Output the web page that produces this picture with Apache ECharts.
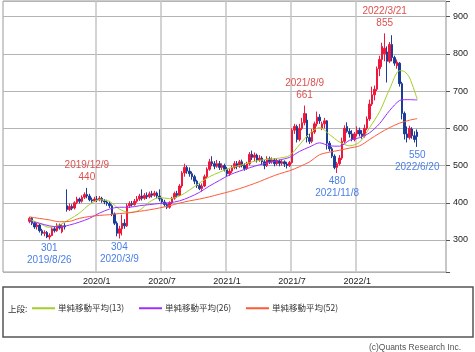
<!DOCTYPE html>
<html>
<head>
<meta charset="utf-8">
<script src="https://cdn.jsdelivr.net/npm/echarts@6/dist/echarts.min.js"></script>
<style>
  html, body { margin: 0; padding: 0; background: #fff; }
  #chart { width: 475px; height: 352px; }
</style>
</head>
<body>
<div id="chart"></div>
<script>
// axis runs weekly, starts 10 weeks before the first candle
const firstWeek = [2019, 4, 22];
const weekCount = 177;
const candleStart = '2019/7/1';

// weekly OHLC, 2019/7/1 .. 2022/6/20
const opens = [
  350, 358, 345, 336, 340, 325, 318, 320, 308, 312,
  330, 325, 340, 322, 338, 392, 382, 390, 386, 400,
  410, 404, 415, 422, 418, 408, 405, 410, 408, 412,
  405, 402, 398, 392, 370, 345, 318, 330, 345, 338,
  392, 398, 395, 404, 410, 418, 412, 420, 416, 424,
  420, 426, 418, 410, 402, 395, 388, 400, 412, 425,
  420, 445, 480, 495, 485, 478, 470, 458, 446, 438,
  445, 470, 490, 510, 505, 498, 505, 495, 500, 490,
  478, 485, 495, 505, 498, 510, 500, 492, 505, 530,
  522, 528, 515, 520, 510, 500, 518, 510, 515, 505,
  512, 506, 510, 504, 500, 508, 595, 605, 570, 600,
  615, 622, 575, 565, 590, 612, 630, 600, 612, 620,
  560, 545, 525, 495, 505, 520, 565, 605, 592, 585,
  570, 585, 595, 585, 580, 600, 625, 665, 690, 705,
  760, 785, 800, 805, 780, 825, 790, 768, 775, 720,
  640, 585, 575, 598, 580, 590
];
const closes = [
  358, 345, 335, 340, 325, 318, 320, 308, 312, 330,
  325, 340, 332, 338, 335, 382, 390, 385, 400, 410,
  404, 415, 422, 418, 408, 405, 410, 408, 412, 405,
  402, 398, 392, 370, 345, 318, 330, 345, 338, 392,
  398, 395, 404, 410, 418, 412, 420, 416, 424, 420,
  426, 418, 410, 402, 395, 388, 400, 412, 425, 420,
  445, 480, 495, 485, 478, 470, 458, 446, 438, 445,
  470, 490, 510, 505, 498, 505, 495, 500, 490, 478,
  485, 495, 505, 498, 510, 500, 492, 505, 530, 522,
  528, 515, 520, 510, 500, 518, 510, 515, 505, 512,
  506, 510, 504, 500, 508, 595, 605, 570, 600, 615,
  640, 575, 565, 590, 612, 630, 620, 612, 620, 560,
  545, 525, 495, 505, 520, 565, 600, 592, 585, 570,
  585, 595, 585, 580, 600, 625, 665, 690, 705, 760,
  785, 820, 815, 780, 825, 790, 775, 778, 720, 640,
  585, 575, 600, 580, 570, 578
];
const lows = [
  345, 340, 330, 328, 320, 312, 310, 305, 301, 310,
  320, 322, 328, 318, 328, 376, 378, 380, 382, 396,
  398, 400, 410, 412, 404, 400, 402, 402, 404, 400,
  396, 392, 386, 364, 340, 310, 304, 312, 330, 335,
  386, 390, 392, 400, 405, 406, 408, 410, 412, 414,
  416, 412, 404, 398, 390, 383, 384, 396, 408, 414,
  418, 440, 470, 478, 470, 462, 450, 440, 434, 430,
  442, 466, 486, 498, 490, 494, 488, 488, 484, 470,
  472, 480, 490, 490, 494, 495, 486, 488, 500, 515,
  512, 508, 510, 502, 490, 496, 504, 505, 498, 500,
  498, 500, 496, 492, 496, 505, 585, 562, 565, 595,
  608, 562, 558, 560, 585, 605, 612, 595, 600, 543,
  538, 520, 490, 480, 500, 515, 560, 588, 575, 565,
  565, 578, 578, 572, 575, 595, 620, 660, 675, 700,
  740, 765, 780, 723, 775, 780, 768, 760, 712, 624,
  570, 562, 570, 572, 562, 550
];
const highs = [
  362, 362, 350, 346, 343, 330, 326, 324, 318, 334,
  336, 345, 344, 342, 345, 436, 398, 396, 404, 416,
  414, 420, 428, 440, 424, 414, 416, 418, 418, 416,
  410, 408, 404, 396, 374, 350, 338, 368, 356, 398,
  404, 405, 410, 418, 424, 436, 426, 428, 430, 432,
  432, 430, 436, 414, 408, 400, 404, 416, 430, 432,
  450, 485, 505, 500, 495, 484, 475, 462, 452, 452,
  476, 495, 518, 525, 512, 515, 512, 506, 505, 496,
  492, 500, 512, 512, 515, 516, 506, 510, 536, 540,
  535, 532, 528, 525, 515, 525, 524, 522, 520, 518,
  516, 515, 514, 510, 512, 600, 612, 610, 612, 628,
  661, 640, 585, 598, 618, 645, 638, 618, 628, 622,
  566, 550, 530, 510, 528, 575, 608, 616, 600, 595,
  590, 605, 602, 595, 610, 632, 677, 712, 715, 766,
  795, 830, 855, 820, 832, 850, 795, 785, 778, 725,
  645, 605, 607, 603, 592, 597
];

// moving averages at these week offsets from candleStart
const maWeeks = [0, 4, 8, 12, 16, 20, 24, 28, 32, 36, 40, 44, 48, 52, 56, 60, 64, 68, 72, 76,
  80, 84, 88, 92, 96, 100, 104, 108, 112, 116, 120, 124, 128, 132, 136, 140, 144, 148, 150, 152, 155];
const ma13 = [356, 345, 334, 340, 355, 372, 395, 408, 404, 383, 374, 380, 402, 414, 411, 418, 434, 453, 470, 482,
  493, 500, 508, 514, 517, 520, 527, 556, 586, 602, 583, 563, 553, 563, 602, 645, 706, 755, 752, 735, 678];
const ma26 = [350, 345, 338, 335, 340, 348, 358, 372, 383, 388, 388, 392, 395, 398, 400, 405, 415, 428, 445, 460,
  475, 485, 494, 502, 508, 515, 522, 538, 550, 561, 553, 552, 568, 575, 588, 613, 648, 675, 677, 677, 676];
const ma52 = [362, 358, 354, 349, 350, 358, 363, 366, 368, 371, 373, 377, 381, 386, 392, 399, 405, 410, 416, 423,
  430, 438, 447, 457, 468, 478, 486, 497, 510, 529, 536, 541, 547, 553, 570, 587, 602, 614, 618, 622, 626];

const xTickLabels = ['2020/1', '2020/7', '2021/1', '2021/7', '2022/1'];

const peakDates = ['2019/12/9', '2021/8/9', '2022/3/21'];
const peakValues = [440, 661, 855];
const troughDates = ['2019/8/26', '2020/3/9', '2021/11/8', '2022/6/20'];
const troughValues = [301, 304, 480, 550];

const seriesNames = ['単純移動平均(13)', '単純移動平均(26)', '単純移動平均(52)'];
const maColors = ['#a3cf2a', '#9b30ff', '#ff5a36'];

const categories = [];
for (let i = 0; i < weekCount; i++) {
  const d = new Date(firstWeek[0], firstWeek[1] - 1, firstWeek[2] + i * 7);
  categories.push(d.getFullYear() + '/' + (d.getMonth() + 1) + '/' + d.getDate());
}
const startIdx = categories.indexOf(candleStart);

const candleData = categories.map(function (d, i) {
  const k = i - startIdx;
  if (k < 0 || k >= opens.length) return ['-', '-', '-', '-'];
  return [opens[k], closes[k], lows[k], highs[k]];
});

function maLine(values) {
  return maWeeks.map(function (w, j) {
    return [categories[startIdx + w], values[j]];
  });
}

function isTickWeek(index, value) {
  const p = value.split('/');
  return +p[2] <= 7 && xTickLabels.indexOf(p[0] + '/' + p[1]) >= 0;
}

const marks = [];
peakDates.forEach(function (d, i) {
  marks.push({
    coord: [d, peakValues[i]],
    label: { position: 'top', distance: 4, color: '#dd5050', formatter: d + '\n' + peakValues[i] }
  });
});
troughDates.forEach(function (d, i) {
  marks.push({
    coord: [d, troughValues[i]],
    label: { position: 'bottom', distance: 2, color: '#4a7fe6', formatter: troughValues[i] + '\n' + d }
  });
});

const chart = echarts.init(document.getElementById('chart'));

const legendBase = {
  top: 304,
  padding: 0,
  icon: 'rect',
  itemWidth: 23,
  itemHeight: 2,
  selectedMode: false,
  textStyle: { fontSize: 8.5, color: '#333', fontFamily: 'Noto Sans CJK JP', padding: [0, 0, 0, -2] }
};

const options = {
  animation: false,
  backgroundColor: '#fff',
  grid: {
    left: 3,
    right: 29,
    top: 1,
    bottom: 80,
    show: true,
    borderColor: '#999',
    borderWidth: 1
  },
  legend: [
    Object.assign({ left: 32, data: [seriesNames[0]] }, legendBase),
    Object.assign({ left: 139, data: [seriesNames[1]] }, legendBase),
    Object.assign({ left: 246, data: [seriesNames[2]] }, legendBase)
  ],
  xAxis: {
    type: 'category',
    data: categories,
    axisLine: { show: false },
    axisTick: { show: false },
    axisLabel: {
      interval: isTickWeek,
      margin: 5,
      fontSize: 9,
      color: '#222',
      fontFamily: 'Liberation Sans',
      formatter: function (v) {
        const p = v.split('/');
        return p[0] + '/' + p[1];
      }
    },
    splitLine: {
      show: true,
      interval: isTickWeek,
      lineStyle: { color: '#c4c4c4', width: 1.5 }
    }
  },
  yAxis: {
    type: 'value',
    position: 'right',
    min: 214,
    max: 942,
    axisLine: { show: false },
    axisTick: { show: true, length: 4, lineStyle: { color: '#555' } },
    axisLabel: {
      margin: 7,
      fontSize: 9,
      color: '#222',
      fontFamily: 'Liberation Sans',
      formatter: function (v) { return v % 100 === 0 ? v : ''; }
    },
    splitLine: { lineStyle: { color: '#b4b4b4', width: 1 } }
  },
  graphic: [
    {
      type: 'rect',
      shape: { x: 3, y: 287, width: 470, height: 50 },
      style: { fill: '#fff', stroke: '#555', lineWidth: 1.5 },
      z: -1
    },
    {
      type: 'text',
      x: 8,
      y: 309,
      style: { text: '上段:', fill: '#333', fontSize: 8.5, fontFamily: 'Noto Sans CJK JP', verticalAlign: 'middle' }
    },
    {
      type: 'text',
      x: 461,
      y: 348,
      style: { text: '(c)Quants Research Inc.', fill: '#555', fontSize: 8.5, fontFamily: 'Liberation Sans', align: 'right', verticalAlign: 'middle' }
    }
  ],
  series: [
    {
      type: 'candlestick',
      data: candleData,
      barWidth: 2,
      itemStyle: {
        color: '#f0173c',
        color0: '#1c3c98',
        borderColor: '#f0173c',
        borderColor0: '#1c3c98',
        borderWidth: 1
      },
      markPoint: {
        symbol: 'circle',
        symbolSize: 1,
        itemStyle: { color: 'transparent' },
        label: { fontSize: 10, lineHeight: 12, fontFamily: 'Liberation Sans' },
        data: marks
      }
    },
    {
      name: seriesNames[0],
      type: 'line',
      data: maLine(ma13),
      showSymbol: false,
      smooth: 0.3,
      color: maColors[0],
      lineStyle: { width: 1 }
    },
    {
      name: seriesNames[1],
      type: 'line',
      data: maLine(ma26),
      showSymbol: false,
      smooth: 0.3,
      color: maColors[1],
      lineStyle: { width: 1 }
    },
    {
      name: seriesNames[2],
      type: 'line',
      data: maLine(ma52),
      showSymbol: false,
      smooth: 0.3,
      color: maColors[2],
      lineStyle: { width: 1 }
    }
  ]
};

chart.setOption(options);
</script>
</body>
</html>
